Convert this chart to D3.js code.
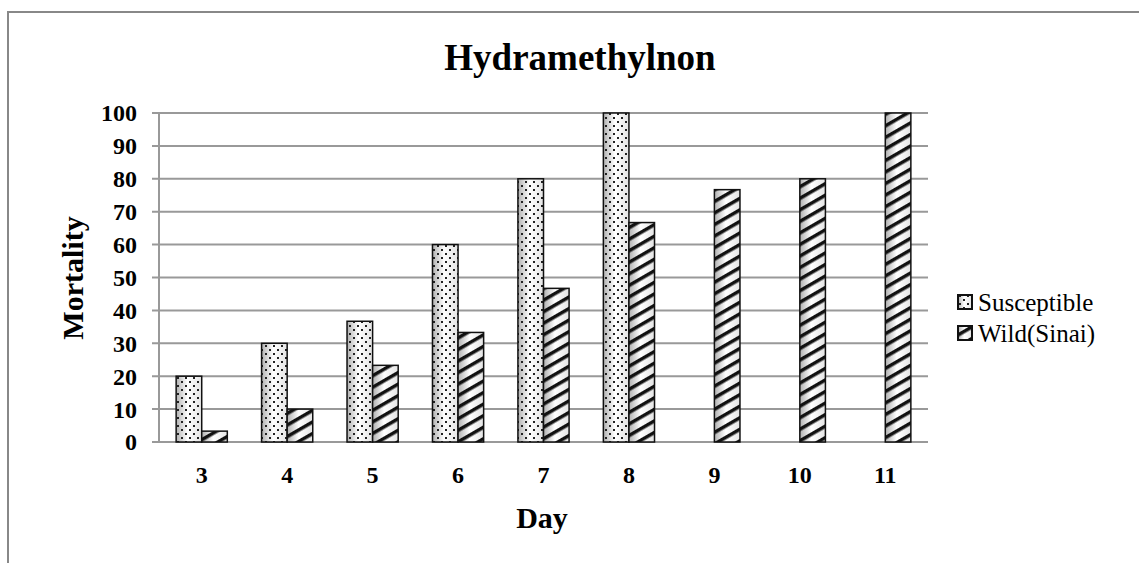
<!DOCTYPE html>
<html>
<head>
<meta charset="utf-8">
<script src="https://cdn.jsdelivr.net/npm/d3@7"></script>
<style>
  body { margin: 0; background: white; }
  text { font-family: 'Liberation Serif', 'Times New Roman', Times, 'DejaVu Serif', serif; }
</style>
</head>
<body>
<script>
const svg_width = 1139;
const svg_height = 563;

const days = ['3', '4', '5', '6', '7', '8', '9', '10', '11'];
const susceptible = [20, 30, 36.7, 60, 80, 100, null, null, null];
const wild = [3.3, 10, 23.3, 33.3, 46.7, 66.7, 76.7, 80, 100];
const y_ticks = [0, 10, 20, 30, 40, 50, 60, 70, 80, 90, 100];
const series_names = ['Susceptible', 'Wild(Sinai)'];

const margin = {left: 159, right: 1139 - 928, top: 113, bottom: 563 - 442};
const grid_color = '#999';
const serif = "'Liberation Serif', 'Times New Roman', Times, 'DejaVu Serif', serif";

const svg = d3.select('body')
    .append('svg')
    .attr('width', svg_width)
    .attr('height', svg_height);

// outer frame (only top and left visible)
svg.append('path')
    .attr('d', `M8,${svg_height + 2} L8,12 L${svg_width + 2},12`)
    .attr('fill', 'none')
    .attr('stroke', '#888')
    .attr('stroke-width', 2);

const defs = svg.append('defs');

const shade = defs.append('linearGradient').attr('id', 'shade');
shade.selectAll('stop')
    .data([{pos: '0%', c: '#b0b0b0'}, {pos: '45%', c: '#ffffff'}, {pos: '100%', c: '#e4e4e4'}])
    .enter()
    .append('stop')
    .attr('offset', d => d.pos)
    .attr('stop-color', d => d.c);

const dots = defs.append('pattern')
    .attr('id', 'dots')
    .attr('patternUnits', 'userSpaceOnUse')
    .attr('width', 8)
    .attr('height', 8);
dots.append('rect').attr('x', 1).attr('y', 1).attr('width', 2).attr('height', 2).attr('fill', '#222');
dots.append('rect').attr('x', 5).attr('y', 5).attr('width', 2).attr('height', 2).attr('fill', '#222');

const stripes = defs.append('pattern')
    .attr('id', 'stripes')
    .attr('patternUnits', 'userSpaceOnUse')
    .attr('width', 10)
    .attr('height', 10)
    .attr('patternTransform', 'rotate(-30)');
stripes.append('rect').attr('x', 0).attr('y', 0).attr('width', 10).attr('height', 3.5).attr('fill', '#111');

const x = d3.scaleBand()
    .domain(days)
    .range([margin.left, svg_width - margin.right]);
const x_inner = d3.scaleBand()
    .domain(series_names)
    .range([0, x.bandwidth()])
    .paddingInner(0)
    .paddingOuter(0.67);
const y = d3.scaleLinear()
    .domain([0, 100])
    .range([svg_height - margin.bottom, margin.top]);

// gridlines
svg.append('g')
    .selectAll('line')
    .data(y_ticks)
    .enter()
    .append('line')
    .attr('x1', margin.left - 7)
    .attr('x2', svg_width - margin.right)
    .attr('y1', d => y(d))
    .attr('y2', d => y(d))
    .attr('stroke', grid_color)
    .attr('stroke-width', 2);

// y axis line
svg.append('line')
    .attr('x1', margin.left)
    .attr('x2', margin.left)
    .attr('y1', y(100))
    .attr('y2', y(0))
    .attr('stroke', grid_color)
    .attr('stroke-width', 2);

// y tick labels
svg.append('g')
    .selectAll('text')
    .data(y_ticks)
    .enter()
    .append('text')
    .attr('x', 137)
    .attr('y', d => y(d))
    .attr('dy', '0.35em')
    .attr('text-anchor', 'end')
    .attr('font-size', 24)
    .attr('font-weight', 'bold')
    .text(d => d);

// x tick labels
svg.append('g')
    .selectAll('text')
    .data(days)
    .enter()
    .append('text')
    .attr('x', d => x(d) + x.bandwidth() / 2)
    .attr('y', 475)
    .attr('dy', '0.35em')
    .attr('text-anchor', 'middle')
    .attr('font-size', 24)
    .attr('font-weight', 'bold')
    .text(d => d);

// bars
const bar_data = [];
days.forEach((d, i) => {
    bar_data.push({day: d, s: series_names[0], v: susceptible[i], fill: 'url(#dots)'});
    bar_data.push({day: d, s: series_names[1], v: wild[i], fill: 'url(#stripes)'});
});
const bars = svg.append('g')
    .selectAll('g')
    .data(bar_data.filter(d => d.v !== null))
    .enter()
    .append('g');
bars.append('rect')
    .attr('x', d => x(d.day) + x_inner(d.s))
    .attr('y', d => y(d.v))
    .attr('width', x_inner.bandwidth())
    .attr('height', d => y(0) - y(d.v))
    .attr('fill', 'url(#shade)');
bars.append('rect')
    .attr('x', d => x(d.day) + x_inner(d.s))
    .attr('y', d => y(d.v))
    .attr('width', x_inner.bandwidth())
    .attr('height', d => y(0) - y(d.v))
    .attr('fill', d => d.fill)
    .attr('stroke', '#111')
    .attr('stroke-width', 1.5);

// title
svg.append('text')
    .attr('x', 580)
    .attr('y', 57)
    .attr('dy', '0.35em')
    .attr('text-anchor', 'middle')
    .attr('font-size', 37)
    .attr('font-weight', 'bold')
    .text('Hydramethylnon');

// axis titles
svg.append('text')
    .attr('x', 542)
    .attr('y', 517)
    .attr('dy', '0.35em')
    .attr('text-anchor', 'middle')
    .attr('font-size', 30)
    .attr('font-weight', 'bold')
    .text('Day');

svg.append('text')
    .attr('transform', 'translate(72, 278) rotate(-90)')
    .attr('dy', '0.35em')
    .attr('text-anchor', 'middle')
    .attr('font-size', 30)
    .attr('font-weight', 'bold')
    .text('Mortality');

// legend
const legend = svg.append('g')
    .selectAll('g')
    .data([{name: series_names[0], fill: 'url(#dots)'}, {name: series_names[1], fill: 'url(#stripes)'}])
    .enter()
    .append('g')
    .attr('transform', (d, i) => `translate(958, ${302 + i * 31})`);
legend.append('rect')
    .attr('x', 0).attr('y', -7).attr('width', 14).attr('height', 14)
    .attr('fill', 'url(#shade)');
legend.append('rect')
    .attr('x', 0).attr('y', -7).attr('width', 14).attr('height', 14)
    .attr('fill', d => d.fill)
    .attr('stroke', '#111')
    .attr('stroke-width', 2);
legend.append('text')
    .attr('x', 20)
    .attr('dy', '0.35em')
    .attr('font-size', 25)
    .attr('font-family', serif)
    .style('font-family', serif)
    .attr('font-weight', 'normal')
    .text(d => d.name);
</script>
</body>
</html>
